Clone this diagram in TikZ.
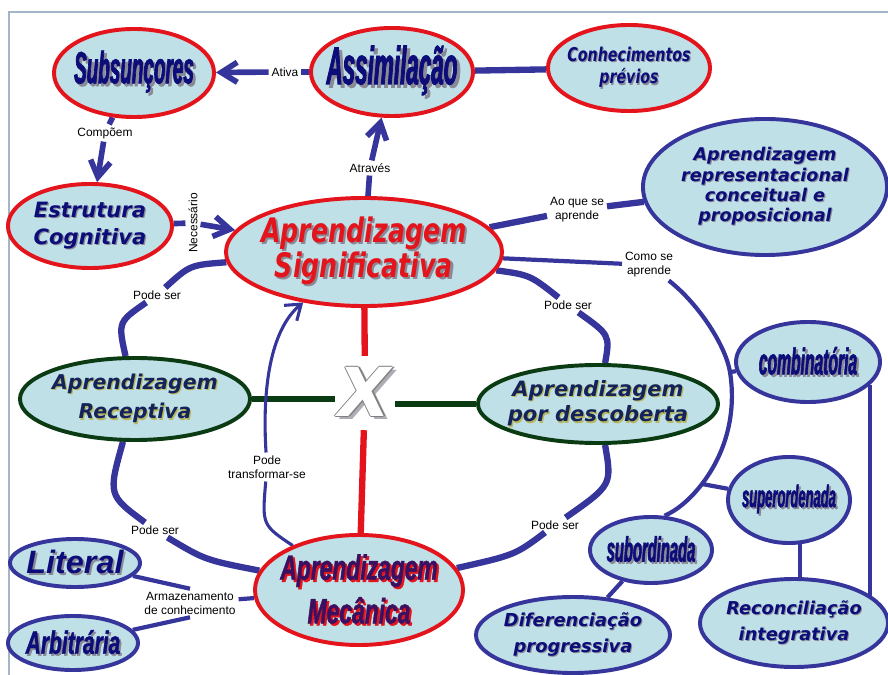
\documentclass[tikz,border=0pt]{standalone}
\usepackage{fontspec}
\setmainfont{Liberation Sans}
\newfontfamily\narrowfont[FakeStretch=0.42,FakeBold=1.5]{Liberation Sans}
\newfontfamily\midfont[FakeStretch=0.65,FakeBold=1.2]{Liberation Sans}
\newfontfamily\blackfont{DejaVu Sans}
\newfontfamily\blacknarrow[FakeStretch=0.75]{DejaVu Sans}
\usepackage{tikz}
\usetikzlibrary{arrows.meta,shapes.geometric,backgrounds}
\definecolor{mapfill}{HTML}{C0E0E8}
\definecolor{mapred}{HTML}{E3141B}
\definecolor{mapblue}{HTML}{35359B}
\definecolor{mapgreen}{HTML}{0B3B12}
\definecolor{mapnavy}{HTML}{0D0D7A}
\definecolor{mapink}{HTML}{14245A}
\definecolor{mapshade}{HTML}{8A8A96}
\definecolor{mapplum}{HTML}{3B1060}
\definecolor{mapolive}{HTML}{B8B860}
\definecolor{mapframe}{HTML}{A3B5C8}
\colorlet{shcol}{mapshade}
\newcommand{\fs}[2]{\fontsize{#1}{#2}\selectfont\bfseries\itshape}
\newcommand{\sh}[1]{\makebox[0pt][l]{\kern.06em\raisebox{-.06em}{\textcolor{shcol}{#1}}}#1}
\newcommand{\bigx}{%
  \makebox[0pt][l]{\kern2.5pt\raisebox{-2.5pt}{\textcolor{mapshade!70}{X}}}%
  \makebox[0pt][l]{\kern.8pt\textcolor{gray}{X}}%
  \makebox[0pt][l]{\kern-.8pt\textcolor{gray}{X}}%
  \makebox[0pt][l]{\raisebox{.8pt}{\textcolor{gray}{X}}}%
  \makebox[0pt][l]{\raisebox{-.8pt}{\textcolor{gray}{X}}}%
  \textcolor{white}{X}}

\begin{document}
\begin{tikzpicture}[x=0.025cm, y=-0.025cm,
  cpt/.style={ellipse, fill=mapfill, line width=2.8pt, align=center, inner sep=-5mm},
  redc/.style={cpt, draw=mapred},
  bluec/.style={cpt, draw=mapblue},
  greenc/.style={cpt, draw=mapgreen},
  shadowcol/.style={execute at begin node={\colorlet{shcol}{#1}}},
  lbl/.style={font=\fontsize{8.5}{10}\selectfont, align=center, inner sep=2pt},
  link/.style={mapblue, line width=3pt},
  arc/.style={mapblue, line width=4.5pt},
  arr/.style={mapblue, line width=4pt, -{Straight Barb[length=4mm,width=5mm]}},
  redl/.style={mapred, line width=4.5pt},
  greenl/.style={mapgreen, line width=4.5pt}]
\useasboundingbox (0,0) rectangle (888,675);
\draw[mapframe, line width=1pt] (9,675) -- (9,12) -- (888,12);

% concepts
\node[redc, minimum width=4cm, minimum height=2.2cm, text=mapnavy, font=\narrowfont\fs{32}{34}] (subs) at (134,73) {\sh{Subsunçores}};
\node[redc, minimum width=4.05cm, minimum height=2.2cm, text=mapnavy, font=\narrowfont\fs{38}{40}] (assim) at (392,72) {\sh{Assimilação}};
\node[redc, minimum width=4.05cm, minimum height=2.15cm, text=mapnavy, font=\blacknarrow\fs{13.5}{16}] (conhec) at (629,68) {\sh{Conhecimentos}\\\sh{prévios}};
\node[redc, minimum width=4.1cm, minimum height=2.1cm, text=mapnavy, font=\blackfont\fs{15}{19}] (estr) at (90,226) {\sh{Estrutura}\\\sh{Cognitiva}};
\node[redc, minimum width=6.9cm, minimum height=2.7cm, text=mapred, font=\blacknarrow\fs{24}{25}] (sig) at (364,252) {\sh{Aprendizagem}\\\sh{Significativa}};
\node[bluec, minimum width=6.1cm, minimum height=3.4cm, text=mapnavy, font=\blackfont\fs{12.5}{14.5}] (repr) at (765,187) {\sh{Aprendizagem}\\\sh{representacional}\\\sh{conceitual e}\\\sh{proposicional}};
\node[greenc, minimum width=5.75cm, minimum height=2.05cm, text=mapink, shadowcol=mapolive, font=\blackfont\fs{14.5}{21}] (recep) at (135,399) {\sh{Aprendizagem}\\\sh{Receptiva}};
\node[inner xsep=0.1cm, inner ysep=0.25cm, font=\blackfont\fs{48}{50}] (x) at (365,393) {\bigx};
\node[greenc, minimum width=6cm, minimum height=1.95cm, text=mapink, shadowcol=mapolive, font=\blackfont\fs{15}{18}] (desc) at (598,404) {\sh{Aprendizagem}\\\sh{por descoberta}};
\node[redc, minimum width=5.2cm, minimum height=2.75cm, text=mapplum, shadowcol=mapred, font=\midfont\fs{25}{31}] (mec) at (359,590) {\sh{Aprendizagem}\\\sh{Mecânica}};
\node[bluec, minimum width=3.25cm, minimum height=1.2cm, text=mapnavy, font=\fs{23}{25}] (lit) at (75,563) {\sh{Literal}};
\node[bluec, minimum width=3.25cm, minimum height=1.35cm, text=mapnavy, font=\midfont\fs{23}{25}] (arb) at (73,643) {\sh{Arbitrária}};
\node[bluec, minimum width=3.6cm, minimum height=2cm, text=mapnavy, font=\narrowfont\fs{26.5}{28}] (comb) at (808,362) {\sh{combinatória}};
\node[bluec, minimum width=3.05cm, minimum height=2.15cm, text=mapnavy, font=\narrowfont\fs{22}{24}] (super) at (789,500) {\sh{superordenada}};
\node[bluec, minimum width=3.05cm, minimum height=1.65cm, text=mapnavy, font=\narrowfont\fs{25}{27}] (subo) at (651,550) {\sh{subordinada}};
\node[bluec, minimum width=4.85cm, minimum height=1.9cm, text=mapnavy, font=\blackfont\fs{12.7}{18}] (dif) at (573,635) {\sh{Diferenciação}\\\sh{progressiva}};
\node[bluec, minimum width=4.7cm, minimum height=2.2cm, text=mapnavy, font=\blackfont\fs{12.6}{18}] (recon) at (794,623) {\sh{Reconciliação}\\\sh{integrativa}};

% linking words
\node[lbl] (ativa) at (285,72) {Ativa};
\node[lbl] (compoem) at (105,133) {Compõem};
\node[lbl] (atraves) at (370,168) {Através};
\node[lbl, rotate=90] (necess) at (193,223) {Necessário};
\node[lbl] (aoque) at (577,210) {Ao que se\\aprende};
\node[lbl] (como) at (649,265) {Como se\\aprende};
\node[lbl] (ps1) at (157,295) {Pode ser};
\node[lbl] (ps2) at (568,305) {Pode ser};
\node[lbl] (ps3) at (155,530) {Pode ser};
\node[lbl] (ps4) at (555,525) {Pode ser};
\node[lbl] (transf) at (267,467) {Pode\\transformar-se};
\node[lbl] (armaz) at (190,603) {Armazenamento\\de conhecimento};
\coordinate (cb) at (730,372);
\coordinate (sb) at (702,484);

\begin{scope}[on background layer]
\draw[arr, -] (assim) -- (ativa);
\draw[arr] (ativa) -- (subs);
\draw[arr, -] (subs) -- (compoem);
\draw[arr] (compoem) -- (estr);
\draw[arr, -] (sig) -- (atraves);
\draw[arr] (atraves) -- (assim);
\draw[arr, -] (estr) -- (necess);
\draw[arr] (necess) -- (sig);
\draw[arc] (assim) -- (conhec);
\draw[arc] (sig) -- (aoque);
\draw[arc] (aoque) -- (repr);
% como se aprende
\draw[link] (sig) -- (como);
\draw[link] (como) .. controls (700,305) and (726,347) .. (cb) .. controls (736,410) and (728,450) .. (sb) .. controls (682,510) and (665,515) .. (subo);
\draw[link] (cb) -- (comb);
\draw[link] (sb) -- (super);
\draw[link] (comb.-20) -- (comb.-20 |- recon.center);
\draw[link] ([xshift=0.27cm]super.center) -- ([xshift=0.27cm]super.center |- recon.center);
\draw[link] (subo) -- (dif);
% X
\draw[redl] (sig) -- (x);
\draw[redl] (x) -- (mec);
\draw[greenl] (recep.east) -- (recep.east -| x.west);
\draw[greenl] (x.east |- desc.west) -- (desc.west);
% pode ser
\draw[arc] (sig) .. controls (190,265) .. (ps1);
\draw[arc] (ps1) .. controls (118,322) .. (recep);
\draw[arc] (recep) .. controls (108,495) .. (ps3);
\draw[arc] (ps3) .. controls (205,560) .. (mec);
\draw[arc] (sig) .. controls (530,275) .. (ps2);
\draw[arc] (ps2) .. controls (610,335) .. (desc);
\draw[arc] (desc) .. controls (612,485) .. (ps4);
\draw[arc] (ps4) .. controls (515,555) .. (mec);
% transformar-se
\draw[mapblue, line width=2.2pt] (mec) .. controls (262,525) .. (transf);
\draw[mapblue, line width=2.2pt, -{Straight Barb[length=3.5mm,width=5mm]}] (transf) .. controls (262,390) and (270,330) .. (sig);
% armazenamento
\draw[link] (lit) -- (armaz.north);
\draw[link] (arb) -- (armaz.south);
\draw[link] (armaz) -- (mec);
\end{scope}
\end{tikzpicture}
\end{document}
